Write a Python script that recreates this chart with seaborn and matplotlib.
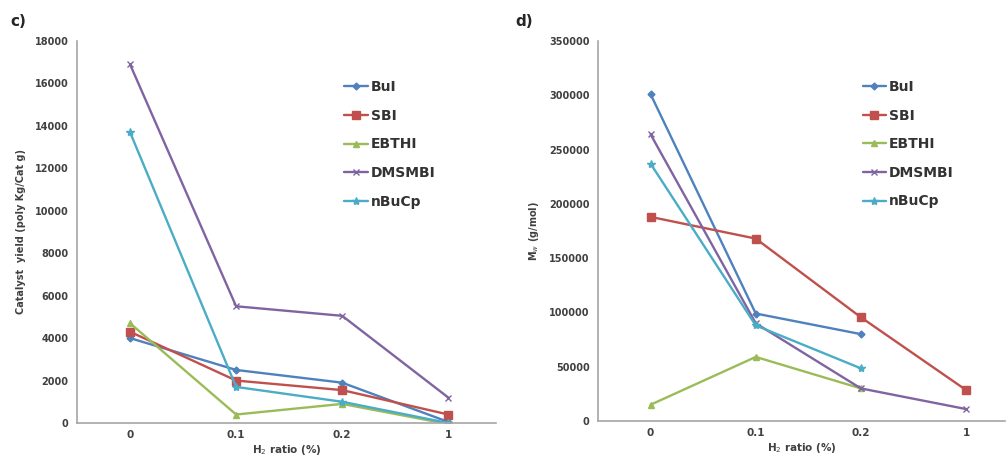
import numpy as np
import pandas as pd
import seaborn as sns
import matplotlib.pyplot as plt

# H2 ratio categories (plotted as evenly spaced categories, Excel style)
h2_ratio = ['0', '0.1', '0.2', '1']
catalysts = ['BuI', 'SBI', 'EBTHI', 'DMSMBI', 'nBuCp']

# c) catalyst yield (poly Kg/Cat g)
yield_bui = [4000, 2500, 1900, 50]
yield_sbi = [4300, 2000, 1550, 400]
yield_ebthi = [4700, 400, 900, -50]
yield_dmsmbi = [16900, 5500, 5050, 1200]
yield_nbucp = [13700, 1700, 1000, 0]

# d) Mw (g/mol)
mw_bui = [301000, 99000, 80000, np.nan]
mw_sbi = [188000, 168000, 95500, 28500]
mw_ebthi = [15000, 59000, 30000, np.nan]
mw_dmsmbi = [264000, 90000, 30000, 11000]
mw_nbucp = [237000, 88000, 48500, np.nan]

colors = ['#4F81BD', '#C0504D', '#9BBB59', '#8064A2', '#4BACC6']
markers = ['D', 's', '^', 'x', '*']
msizes = [3.5, 5.5, 5, 5, 6]


def long_df(series):
    rows = []
    for name, vals in zip(catalysts, series):
        for i, v in enumerate(vals):
            rows.append((name, i, v))
    return pd.DataFrame(rows, columns=['catalyst', 'pos', 'value']).dropna()


df_yield = long_df([yield_bui, yield_sbi, yield_ebthi, yield_dmsmbi, yield_nbucp])
df_mw = long_df([mw_bui, mw_sbi, mw_ebthi, mw_dmsmbi, mw_nbucp])

sns.set_style('white')
plt.rcParams['font.family'] = ['DejaVu Sans']

fig = plt.figure(figsize=(10.07, 4.59), dpi=100)
W, H = 1007, 459
ax1 = fig.add_axes([77 / W, 1 - 423 / H, (496 - 77) / W, (423 - 41) / H])
ax2 = fig.add_axes([598 / W, 1 - 421 / H, (1005 - 598) / W, (421 - 41) / H])

tick_color = '#404040'
for ax, df in [(ax1, df_yield), (ax2, df_mw)]:
    for name, c, m, ms in zip(catalysts, colors, markers, msizes):
        sub = df[df['catalyst'] == name]
        sns.lineplot(data=sub, x='pos', y='value', ax=ax, color=c, marker=m,
                     markersize=ms, markeredgecolor=c, markeredgewidth=1.0,
                     linewidth=1.7, label=name, estimator=None, sort=False)
    ax.set_xticks(range(len(h2_ratio)))
    ax.set_xticklabels(h2_ratio)
    ax.set_xticks([0.5, 1.5, 2.5], minor=True)
    ax.tick_params(axis='x', which='major', length=0, pad=5,
                   labelsize=7.5, labelcolor=tick_color)
    ax.tick_params(axis='x', which='minor', length=3, direction='in',
                   color='#a0a0a0', width=1)
    ax.tick_params(axis='y', length=0, pad=6, labelsize=7, labelcolor=tick_color)
    for side in ['top', 'right']:
        ax.spines[side].set_visible(False)
    for side in ['left', 'bottom']:
        ax.spines[side].set_color('#a6a6a6')
        ax.spines[side].set_linewidth(1.2)
    ax.set_xlabel('H$_2$ ratio (%)', fontsize=7.5, fontweight='bold',
                  color=tick_color, labelpad=2)
    leg = ax.legend(frameon=False, fontsize=10, handlelength=1.7,
                    handletextpad=0.2, labelspacing=1.05,
                    loc='upper left')
    for t in leg.get_texts():
        t.set_fontweight('bold')
        t.set_color('#333333')

ax1.set_xlim(-0.5, 3.45)
ax1.set_ylim(0, 18000)
ax1.set_yticks(range(0, 18001, 2000))
ax1.set_ylabel('Catalyst  yield (poly Kg/Cat g)', fontsize=7, fontweight='bold',
               color=tick_color, labelpad=6)
ax1.legend_.set_bbox_to_anchor((255 / 419, 0.93))

ax2.set_xlim(-0.5, 3.37)
ax2.set_ylim(0, 350000)
ax2.set_yticks(range(0, 350001, 50000))
ax2.set_ylabel('M$_w$ (g/mol)', fontsize=7, fontweight='bold',
               color=tick_color, labelpad=6)
ax2.legend_.set_bbox_to_anchor((252 / 407, 0.93))

for ax in (ax1, ax2):
    for lab in ax.get_yticklabels() + ax.get_xticklabels():
        lab.set_fontweight('bold')

fig.text(10 / W, 1 - 26 / H, 'c)', fontsize=11, fontweight='bold')
fig.text(515 / W, 1 - 26 / H, 'd)', fontsize=11, fontweight='bold')

fig.savefig('out.png', dpi=100)
